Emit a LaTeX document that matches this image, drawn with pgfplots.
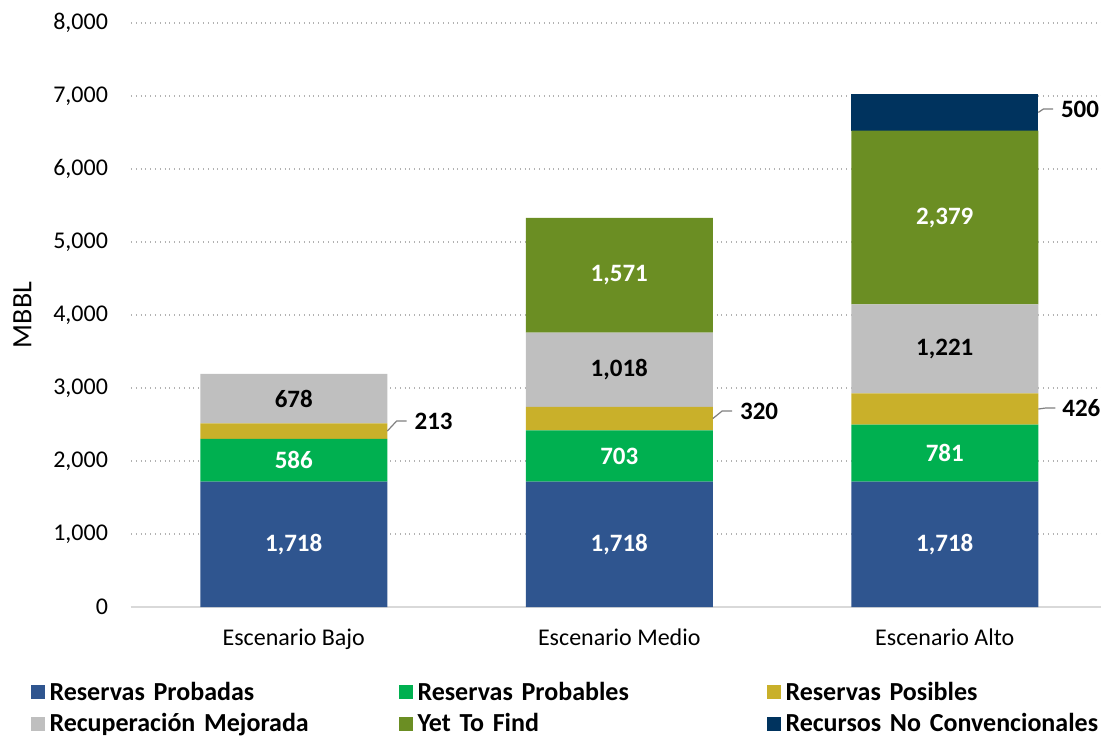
\documentclass[border=0pt]{standalone}
\usepackage{pgfplots}
\pgfplotsset{compat=1.18}
\usepackage{fontspec}
\setmainfont{Carlito}
\definecolor{cProb}{RGB}{47,85,143}
\definecolor{cProbl}{RGB}{0,176,80}
\definecolor{cPos}{RGB}{201,176,42}
\definecolor{cRec}{RGB}{191,191,191}
\definecolor{cYet}{RGB}{107,142,35}
\definecolor{cUnc}{RGB}{0,51,94}
\pgfplotsset{
  common/.style={
    width=485pt, height=292pt, scale only axis,
    xmin=-0.5, xmax=2.48, ymin=0, ymax=8000, clip=false,
  }
}
\begin{document}
\begin{tikzpicture}
\begin{axis}[
  common,
  ybar stacked, bar width=93.5pt,
  axis line style={draw=none},
  major tick length=0pt,
  xtick={0,1,2},
  xticklabels={Escenario Bajo, Escenario Medio, Escenario Alto},
  ytick={0,1000,...,8000},
  ymajorgrids,
  grid style={gray!60, dotted, line width=0.6pt},
  extra y ticks={0}, extra y tick labels={},
  extra y tick style={grid style={solid, draw=black!15, line width=0.8pt}},
  tick label style={font=\fontsize{12}{14}\selectfont},
  /pgf/number format/assume math mode=true,
  /pgf/number format/1000 sep={,},
  yticklabel style={xshift=-8pt},
  xticklabel style={yshift=-7.5pt},
  ylabel={MBBL},
  every axis y label/.style={at={(axis description cs:-0.112,0.5)}, rotate=90, anchor=center, font=\fontsize{14}{16}\selectfont},
  legend columns=3,
  legend cell align=left,
  legend style={draw=none, at={(axis description cs:-0.104,-0.124)}, anchor=north west,
    font=\bfseries\fontsize{13}{15}\selectfont, inner sep=0pt, row sep=3pt,
    nodes={text width=172pt, align=left, inner xsep=2.5pt, inner ysep=1pt}},
  legend image code/.code={\fill[#1] (0pt,-3.5pt) rectangle (7pt,3.5pt);},
]
\addplot[fill=cProb, draw=none] coordinates {(0,1718) (1,1718) (2,1718)};
\addplot[fill=cProbl, draw=none] coordinates {(0,586) (1,703) (2,781)};
\addplot[fill=cPos, draw=none] coordinates {(0,213) (1,320) (2,426)};
\addplot[fill=cRec, draw=none] coordinates {(0,678) (1,1018) (2,1221)};
\addplot[fill=cYet, draw=none] coordinates {(0,0) (1,1571) (2,2379)};
\addplot[fill=cUnc, draw=none] coordinates {(0,0) (1,0) (2,500)};
\legend{Reservas Probadas, Reservas Probables, Reservas Posibles, Recuperación Mejorada, Yet To Find, Recursos No Convencionales}
\end{axis}
\begin{axis}[common, hide axis]
\addplot[draw=none, mark=none, nodes near coords, point meta=explicit symbolic,
  nodes near coords style={anchor=center, text=white, font=\bfseries\fontsize{12.5}{14}\selectfont}]
  table[meta=label] {
x y label
0 859 {1,718}
1 859 {1,718}
2 859 {1,718}
0 2011 586
1 2069.5 703
2 2108.5 781
1 4544.5 {1,571}
2 5335.5 {2,379}
};
\addplot[draw=none, mark=none, nodes near coords, point meta=explicit symbolic,
  nodes near coords style={anchor=center, text=black, font=\bfseries\fontsize{12.5}{14}\selectfont}]
  table[meta=label] {
x y label
0 2856 678
1 3250 {1,018}
2 3535.5 {1,221}
};
\addplot[draw=none, mark=none, nodes near coords, point meta=explicit symbolic,
  nodes near coords style={anchor=west, inner sep=0pt, text=black, font=\bfseries\fontsize{12.5}{14}\selectfont}]
  table[meta=label] {
x y label
0.37 2548 213
1.37 2685 320
2.36 2726 426
2.356 6822 500
};
\addplot[gray, line width=0.6pt] coordinates {(0.2873,2410) (0.316,2548) (0.347,2548)};
\addplot[gray, line width=0.6pt] coordinates {(1.2873,2581) (1.316,2685) (1.347,2685)};
\addplot[gray, line width=0.6pt] coordinates {(2.2873,2712) (2.31,2726) (2.34,2726)};
\addplot[gray, line width=0.6pt] coordinates {(2.2873,6775) (2.303,6822) (2.333,6822)};
\end{axis}
\pgfresetboundingbox
\path (-65.5pt,-64pt) rectangle (485pt,303.5pt);
\end{tikzpicture}
\end{document}
